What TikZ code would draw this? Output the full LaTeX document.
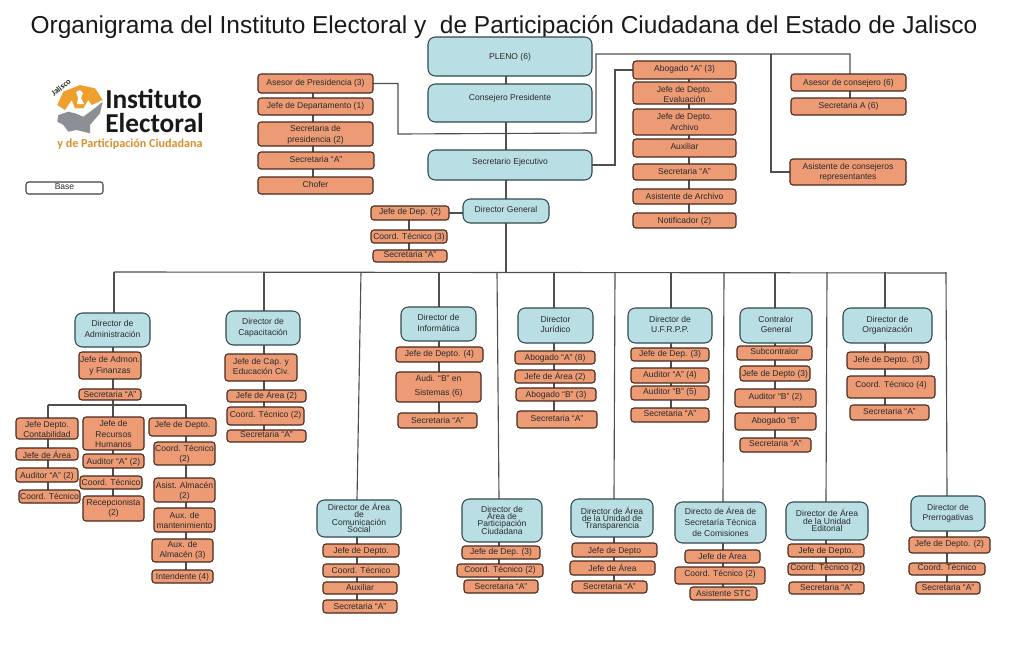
\documentclass[tikz,border=0pt]{standalone}
\usepackage{fontspec}
\setmainfont{Liberation Sans}
\newfontfamily\logofont{Carlito}
\pgfdeclarelayer{bg}
\pgfsetlayers{bg,main}
\definecolor{boxor}{HTML}{EC9B75}
\definecolor{boxbl}{HTML}{B9DFE4}
\definecolor{edgeor}{HTML}{4A2A1E}
\definecolor{edgebl}{HTML}{2F4A4E}
\definecolor{linec}{HTML}{4F4F4F}
\definecolor{txt}{HTML}{2A2A2A}
\definecolor{logoor}{HTML}{EE9F2E}
\definecolor{logogr}{HTML}{8C9096}
\tikzset{
  x=0.75pt,y=-0.75pt,
  boxbase/.style={inner sep=0pt,outer sep=0pt,line width=0.8pt,text=txt,font=\fontsize{6.4}{7.8}\selectfont},
  orbox/.style={boxbase,draw=edgeor,fill=boxor,rounded corners=2.2pt},
  blbox/.style={boxbase,draw=edgebl,fill=boxbl,rounded corners=5.5pt},
  whbox/.style={boxbase,draw=black!75,fill=white,rounded corners=2pt},
  conn/.style={draw=linec,line width=0.85pt}
}
\newcommand\bx[8][0]{%
  \pgfmathsetmacro\bxw{(#6-#4)*0.75}%
  \pgfmathsetmacro\bxh{(#7-#5)*0.75}%
  \pgfmathsetmacro\bxx{(#4+#6)/2}%
  \pgfmathsetmacro\bxy{(#5+#7)/2}%
  \node[#2,minimum width=\bxw pt,minimum height=\bxh pt] (#3) at (\bxx,\bxy)
    {\raisebox{\dimexpr#1pt-2.8pt\relax}{\makebox[0pt]{\smash{\begin{tabular}{@{}c@{}}#8\end{tabular}}}}};%
}
\newcommand\vc[2]{%
  \coordinate (vx) at (#1,0);%
  \foreach \n [count=\i, remember=\n as \p] in {#2} {%
    \ifnum\i>1 \draw[conn] (vx |- \p.south) -- (vx |- \n.north);\fi}%
}
\newcommand\dr[4]{% top x, name of top coordinate, node, bottom x
  \coordinate (#2) at (#1,272);%
  \coordinate (vb) at (#4,0);%
  \draw[conn] (#2) -- (vb |- #3.north);%
}
\begin{document}
\begin{tikzpicture}
\useasboundingbox (0,0) rectangle (1024,653);
\node[inner sep=0pt,anchor=base,font=\fontsize{18.35}{20}\selectfont,text=black!90] (title) at (504,33.5)
  {Organigrama del Instituto Electoral y\ \ de Participación Ciudadana del Estado de Jalisco};

% logo
\fill[logoor] (57.3,105) -- (63.3,91.7) -- (80,85) -- (95,88.3) -- (102.7,100) -- (91.7,105) -- (88.3,100) -- (83.3,108.3) -- (75,108.3) -- (71.7,100) -- (65,110) -- cycle;
\fill[white] (76,92) -- (80,90) -- (83,93) -- (81,98) -- (84,104) -- (77,104) -- (78,98) -- cycle;
\fill[logogr] (58.3,115) -- (68.3,111.7) -- (75,113.3) -- (83.3,116.7) -- (96.7,106.7) -- (102.7,101.7) -- (100,113.3) -- (90,125) -- (90,133.3) -- (76.7,130) -- (68.3,131.7) -- (63.3,125) -- (57.3,121.7) -- cycle;
\node[inner sep=0pt,rotate=38,font=\logofont\bfseries\fontsize{6.2}{7}\selectfont,text=black!85] (logoj) at (61,87.5) {Jalisco};
\node[inner sep=0pt,anchor=base west,font=\logofont\bfseries\fontsize{20.5}{22}\selectfont,text=black!90] (logoa) at (105,108.5) {Instituto};
\node[inner sep=0pt,anchor=base west,font=\logofont\bfseries\fontsize{20.5}{22}\selectfont,text=black!90] (logob) at (105,132.5) {Electoral};
\node[inner sep=0pt,anchor=base west,font=\logofont\bfseries\fontsize{9.1}{10}\selectfont,text=logoor!90!black] (logoc) at (57,147) {y de Participación Ciudadana};

\bx{whbox}{base}{26}{182}{103}{194}{Base}

% top
\bx[-1.2]{blbox}{pleno}{428}{37}{592}{76}{PLENO (6)}
\bx[7.2]{blbox}{cons}{428}{84}{592}{122}{Consejero Presidente}
\bx[3.4]{blbox}{sej}{428}{150}{592}{180}{Secretario Ejecutivo}
\bx{blbox}{dg}{463}{199}{549}{223}{Director General}

\bx[-0.5]{orbox}{ap1}{258}{74}{373}{93}{Asesor de Presidencia (3)}
\bx{orbox}{ap2}{258}{98}{373}{115}{Jefe de Departamento (1)}
\bx[-1.75]{orbox}{ap3}{258}{122}{373}{146}{Secretaria de\\presidencia (2)}
\bx{orbox}{ap4}{258}{152}{374}{169}{Secretaria “A”}
\bx{orbox}{ap5}{258}{177}{373}{194}{Chofer}

\bx{orbox}{ab1}{633}{61}{736}{79}{Abogado “A” (3)}
\bx[-3.4]{orbox}{ab2}{633}{82}{736}{104}{Jefe de Depto.\\Evaluación}
\bx[-1.75]{orbox}{ab3}{633}{109}{736}{135}{Jefe de Depto.\\Archivo}
\bx{orbox}{ab4}{633}{139}{736}{157}{Auxiliar}
\bx[-1.2]{orbox}{ab5}{633}{164}{736}{180}{Secretaria “A”}
\bx[-1]{orbox}{ab6}{633}{189}{736}{204}{Asistente de Archivo}
\bx[-1.2]{orbox}{ab7}{633}{213}{736}{228}{Notificador (2)}

\bx[-1]{orbox}{ac1}{791}{74}{906}{91}{Asesor de consejero (6)}
\bx{orbox}{ac2}{791}{98}{906}{115}{Secretaria A (6)}
\bx[-1]{orbox}{ac3}{790}{159}{906}{185}{Asistente de consejeros\\representantes}

\bx{orbox}{dg1}{371}{206}{449}{220}{Jefe de Dep. (2)}
\bx[-1]{orbox}{dg2}{371}{230}{447}{243}{Coord. Técnico (3)}
\bx{orbox}{dg3}{373}{250}{447}{262}{Secretaria “A”}

% administracion
\bx{blbox}{adm}{75}{313}{150}{347}{Director de\\Administración}
\bx[-1]{orbox}{adm1}{79}{352}{141}{379}{Jefe de Admon.\\y Finanzas}
\bx[-1]{orbox}{adm2}{79}{389}{141}{400}{Secretaria “A”}
\bx[-2.9]{orbox}{ca1}{16}{418}{78}{439}{Jefe Depto.\\Contabilidad}
\bx[-3.3]{orbox}{ca2}{16}{448}{78}{460}{Jefe de Área}
\bx[-2]{orbox}{ca3}{16}{468}{78}{482}{Auditor “A” (2)}
\bx[-1.9]{orbox}{ca4}{19}{490}{80}{503}{Coord. Técnico}
\bx[-2.5]{orbox}{cb1}{83}{417}{144}{450}{Jefe de\\Recursos\\Humanos}
\bx[-2.2]{orbox}{cb2}{83}{454}{144}{468}{Auditor “A” (2)}
\bx[-2.2]{orbox}{cb3}{80}{476}{142}{489}{Coord. Técnico}
\bx{orbox}{cb4}{83}{496}{144}{521}{Recepcionista\\(2)}
\bx[2.2]{orbox}{cc1}{149}{418}{216}{436}{Jefe de Depto.}
\bx[-1.75]{orbox}{cc2}{154}{442}{215}{465}{Coord. Técnico\\(2)}
\bx[-2.5]{orbox}{cc3}{154}{478}{215}{502}{Asist. Almacén\\(2)}
\bx[-2.2]{orbox}{cc4}{154}{508}{215}{532}{Aux. de\\mantenimiento}
\bx{orbox}{cc5}{152}{539}{213}{562}{Aux. de\\Almacén (3)}
\bx[-1.5]{orbox}{cc6}{152}{570}{213}{583}{Intendente (4)}

% capacitacion
\bx{blbox}{cap}{226}{311}{300}{345}{Director de\\Capacitación}
\bx{orbox}{cap1}{225}{354}{297}{381}{Jefe de Cap. y\\Educación Civ.}
\bx[-1]{orbox}{cap2}{227}{390}{306}{402}{Jefe de Área (2)}
\bx{orbox}{cap3}{227}{407}{304}{425}{Coord. Técnico (2)}
\bx{orbox}{cap4}{227}{430}{306}{442}{Secretaria “A”}

% informatica
\bx{blbox}{inf}{401}{307}{476}{341}{Director de\\Informática}
\bx{orbox}{inf1}{396}{347}{483}{362}{Jefe de Depto. (4)}
\bx[0.9]{orbox}{inf2}{396}{372}{481}{402}{Audi. “B” en\\[2.5pt]Sistemas (6)}
\bx[-1]{orbox}{inf3}{398}{413}{477}{428}{Secretaria “A”}

% juridico
\bx{blbox}{jur}{518}{308}{593}{343}{Director\\Jurídico}
\bx[-1]{orbox}{jur1}{515}{351}{595}{364}{Abogado “A” (8)}
\bx[-1]{orbox}{jur2}{515}{370}{595}{383}{Jefe de Área (2)}
\bx[-1]{orbox}{jur3}{516}{388}{596}{401}{Abogado “B” (3)}
\bx[-0.75]{orbox}{jur4}{517}{411}{597}{428}{Secretaria “A”}

% ufrpp
\bx{blbox}{ufr}{628}{308}{712}{343}{Director de\\U.F.R.P.P.}
\bx{orbox}{ufr1}{631}{348}{709}{361}{Jefe de Dep. (3)}
\bx{orbox}{ufr2}{631}{368}{709}{383}{Auditor “A” (4)}
\bx{orbox}{ufr3}{631}{386}{709}{400}{Auditor “B” (5)}
\bx{orbox}{ufr4}{631}{408}{709}{422}{Secretaria “A”}

% contralor
\bx{blbox}{con}{740}{308}{812}{343}{Contralor\\General}
\bx{orbox}{con1}{737}{346}{812}{360}{Subcontralor}
\bx[-1]{orbox}{con2}{740}{366}{810}{381}{Jefe de Depto (3)}
\bx{orbox}{con3}{735}{389}{816}{407}{Auditor “B” (2)}
\bx{orbox}{con4}{735}{413}{816}{430}{Abogado “B”}
\bx{orbox}{con5}{740}{438}{811}{452}{Secretaria “A”}

% organizacion
\bx{blbox}{org}{843}{308}{932}{343}{Director de\\Organización}
\bx{orbox}{org1}{847}{352}{929}{369}{Jefe de Depto. (3)}
\bx[2.5]{orbox}{org2}{847}{376}{935}{398}{Coord. Técnico (4)}
\bx{orbox}{org3}{850}{405}{929}{420}{Secretaria “A”}

% comunicacion
\bx[-1.5]{blbox}{com}{317}{500}{401}{537}{Director de Área\\[-2.4pt]de\\[-2.4pt]Comunicación\\[-2.4pt]Social}
\bx[-1.75]{orbox}{com1}{323}{544}{399}{557}{Jefe de Depto.}
\bx[-1]{orbox}{com2}{323}{564}{399}{577}{Coord. Técnico}
\bx[-1.5]{orbox}{com3}{323}{582}{397}{594}{Auxiliar}
\bx[-1]{orbox}{com4}{323}{600}{397}{613}{Secretaria “A”}

% participacion
\bx[-1.25]{blbox}{par}{462}{499}{542}{542}{Director de\\[-2.4pt]Área de\\[-2.4pt]Participación\\[-2.4pt]Ciudadana}
\bx{orbox}{par1}{462}{546}{540}{559}{Jefe de Dep. (3)}
\bx{orbox}{par2}{457}{564}{543}{577}{Coord. Técnico (2)}
\bx[-1]{orbox}{par3}{464}{580}{538}{593}{Secretaria “A”}

% transparencia
\bx[-2.1]{blbox}{tra}{571}{499}{653}{537}{Director de Área\\[-2.4pt]de la Unidad de\\[-2.4pt]Transparencia}
\bx[-2.25]{orbox}{tra1}{572}{543}{657}{557}{Jefe de Depto}
\bx[-1.75]{orbox}{tra2}{570}{561}{655}{575}{Jefe de Área}
\bx[-1]{orbox}{tra3}{572}{581}{647}{593}{Secretaria “A”}

% tecnica
\bx[-1.75]{blbox}{tec}{675}{502}{766}{543}{Directo de Área de\\[0.6pt]Secretaría Técnica\\[0.6pt]de Comisiones}
\bx[-1.5]{orbox}{tec1}{685}{550}{760}{563}{Jefe de Área}
\bx[1.25]{orbox}{tec2}{675}{567}{765}{584}{Coord. Técnico (2)}
\bx[-1.5]{orbox}{tec3}{690}{587}{757}{600}{Asistente STC}

% editorial
\bx[-1.75]{blbox}{edi}{786}{502}{868}{540}{Director de Área\\[-2.4pt]de la Unidad\\[-2.4pt]Editorial}
\bx[-1]{orbox}{edi1}{788}{544}{864}{557}{Jefe de Depto.}
\bx{orbox}{edi2}{788}{563}{864}{575}{Coord. Técnico (2)}
\bx[-1]{orbox}{edi3}{789}{582}{864}{594}{Secretaria “A”}

% prerrogativas
\bx{blbox}{pre}{911}{496}{985}{531}{Director de\\Prerrogativas}
\bx{orbox}{pre1}{909}{537}{990}{553}{Jefe de Depto. (2)}
\bx{orbox}{pre2}{909}{563}{985}{575}{Coord. Técnico}
\bx[-1]{orbox}{pre3}{916}{582}{980}{594}{Secretaria “A”}

\begin{pgfonlayer}{bg}
  % spine
  \vc{506}{pleno,cons,sej,dg}
  \coordinate (bar) at (506,272);
  \coordinate (barl) at (114,272);
  \coordinate (barr) at (946,273);
  \draw[conn] (dg.south -| bar) -- (bar);
  \draw[conn] (barl) -- (barr);
  % advisers
  \vc{313}{ap1,ap2,ap3,ap4,ap5}
  \vc{689}{ab1,ab2,ab3,ab4,ab5,ab6,ab7}
  \vc{850}{ac1,ac2}
  \coordinate (tl) at (398,134);
  \coordinate (tm) at (596,133);
  \coordinate (tt) at (596,54);
  \coordinate (tb) at (771,54);
  \coordinate (tr) at (850,54);
  \draw[conn] (ap1.east) -| (tl) -- (tm) -- (tt) -- (tr) -- (ac1.north -| tr);
  \draw[conn] (tb) |- (ac3.west);
  \coordinate (sx) at (615,0);
  \draw[conn] (sej.east) -- (sej.east -| sx) -- (ab1.west -| sx) -- (ab1.west);
  % director general
  \draw[conn] (dg.west |- dg1.east) -- (dg1.east);
  \vc{409}{dg1,dg2,dg3}
  % directors
  \dr{114}{t1}{adm}{114}
  \dr{264}{t2}{cap}{264}
  \dr{361}{t3}{com}{357}
  \dr{439}{t4}{inf}{439}
  \dr{497}{t5}{par}{499}
  \dr{554}{t6}{jur}{554}
  \dr{615}{t7}{tra}{614}
  \dr{671}{t8}{ufr}{671}
  \dr{724}{t9}{tec}{723}
  \dr{775}{t10}{con}{775}
  \dr{827}{t11}{edi}{826}
  \dr{885}{t12}{org}{885}
  \dr{946}{t13}{pre}{947}
  % columns
  \vc{113}{adm,adm1,adm2}
  \coordinate (ah) at (113,405);
  \coordinate (ahl) at (48,405);
  \coordinate (ahr) at (186,405);
  \draw[conn] (adm2.south -| ah) -- (ah);
  \draw[conn] (ahl) -- (ahr);
  \draw[conn] (ahl) -- (ahl |- ca1.north);
  \draw[conn] (ah) -- (ah |- cb1.north);
  \draw[conn] (ahr) -- (ahr |- cc1.north);
  \vc{48}{ca1,ca2,ca3,ca4}
  \vc{113}{cb1,cb2,cb3,cb4}
  \vc{186}{cc1,cc2,cc3,cc4,cc5,cc6}
  \vc{264}{cap,cap1,cap2,cap3,cap4}
  \vc{439}{inf,inf1,inf2,inf3}
  \vc{554}{jur,jur1,jur2,jur3,jur4}
  \vc{671}{ufr,ufr1,ufr2,ufr3,ufr4}
  \vc{775}{con,con1,con2,con3,con4,con5}
  \vc{885}{org,org1,org2,org3}
  \vc{357}{com,com1,com2,com3,com4}
  \vc{499}{par,par1,par2,par3}
  \vc{614}{tra,tra1,tra2,tra3}
  \vc{723}{tec,tec1,tec2,tec3}
  \vc{826}{edi,edi1,edi2,edi3}
  \vc{947}{pre,pre1,pre2,pre3}
\end{pgfonlayer}
\end{tikzpicture}
\end{document}
